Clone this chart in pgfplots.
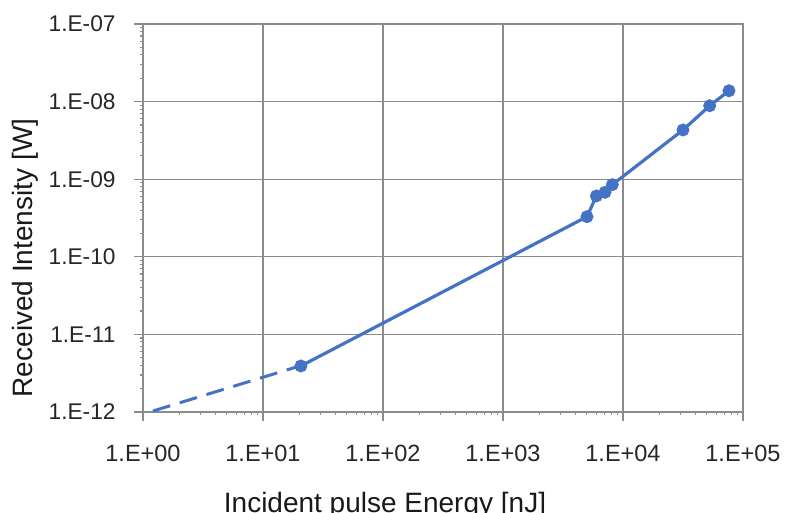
\documentclass[border=0pt]{standalone}
\usepackage{fontspec}
\setmainfont{Liberation Sans}
\usepackage{pgfplots}
\pgfplotsset{compat=1.18}
\definecolor{xlblue}{RGB}{68,114,196}
\definecolor{gridgray}{RGB}{140,140,140}
\begin{document}
\begin{tikzpicture}
\begin{axis}[
  name=ax,
  scale only axis,
  width=600pt, height=388pt,
  xmode=log, ymode=log,
  xmin=1, xmax=1e5, ymin=1e-12, ymax=1e-7,
  xtick={1,10,100,1000,10000,100000},
  xticklabels={1.E+00,1.E+01,1.E+02,1.E+03,1.E+04,1.E+05},
  ytick={1e-12,1e-11,1e-10,1e-9,1e-8,1e-7},
  yticklabels={1.E-12,1.E-11,1.E-10,1.E-09,1.E-08,1.E-07},
  minor tick num=0,
  grid=major,
  major grid style={gridgray, line width=1.1pt},
  axis line style={gridgray, line width=1.1pt},
  tick style={gridgray, line width=1.1pt},
  tick align=outside, tick pos=left,
  major tick length=9pt,
  xticklabel style={font=\fontsize{23.5}{28}\selectfont, text=black!85, yshift=-21pt},
  yticklabel style={font=\fontsize{22.7}{27}\selectfont, text=black!85, xshift=-15pt},
  xlabel={Incident pulse Energy [nJ]},
  ylabel={Received Intensity [W]},
  label style={font=\fontsize{28}{33}\selectfont, text=black!90},
  xlabel style={at={(axis description cs:0.5,0)}, anchor=base, xshift=-58pt, yshift=-100pt},
  ylabel style={at={(axis description cs:0,0.5)}, anchor=base, xshift=-40pt, yshift=110pt},
]
\addplot[xlblue, line width=3pt, dash pattern=on 18pt off 10pt] coordinates {
  (1.21,1.03e-12) (19.5,3.85e-12)
};
\addplot[xlblue, line width=3.2pt, mark=*, mark size=4.8pt, mark options={solid, fill=xlblue}] coordinates {
  (20.7,3.92e-12)
  (5012,3.29e-10)
  (6000,6.08e-10)
  (7080,6.78e-10)
  (8150,8.5e-10)
  (31600,4.31e-9)
  (52800,8.85e-9)
  (76400,1.38e-8)
};
\end{axis}
\pgfresetboundingbox
\path[use as bounding box] ([shift={(-143pt,-101pt)}]ax.south west) rectangle ([shift={(42pt,24pt)}]ax.north east);
\end{tikzpicture}
\end{document}
